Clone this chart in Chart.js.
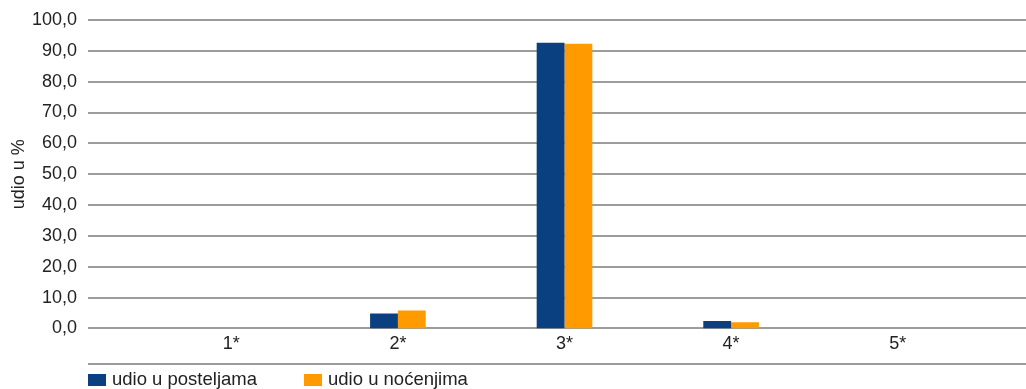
<!DOCTYPE html>
<html>
<head>
<meta charset="utf-8">
<script src="https://cdn.jsdelivr.net/npm/chart.js@4/dist/chart.umd.min.js"></script>
<style>
    html, body { margin: 0; padding: 0; background: #fff; }
    #wrap { position: relative; width: 1026px; height: 389px; }
    #legend { position: absolute; left: 88px; top: 368px; font-family: "Liberation Sans", Arial, sans-serif; font-size: 18.5px; color: #222; white-space: nowrap; }
    #legend span.item { display: inline-block; margin-right: 47px; line-height: 20px; }
    #legend span.box { display: inline-block; width: 18px; height: 12px; margin-right: 6px; vertical-align: -1px; }
</style>
</head>
<body>
<div id="wrap">
    <canvas id="chart" width="1026" height="389"></canvas>
    <div id="legend"></div>
</div>
<script>
// podaci
var categories = ['1*', '2*', '3*', '4*', '5*'];
var seriesNames = ['udio u posteljama', 'udio u noćenjima'];
var udioPostelje = [0, 4.8, 92.6, 2.4, 0];
var udioNocenja = [0, 5.8, 92.3, 2.0, 0];
var yTicks = [0, 10, 20, 30, 40, 50, 60, 70, 80, 90, 100];

var fontFamily = '"Liberation Sans", Arial, sans-serif';

// horizontalne linije mreze - idu od x=88 do desnog ruba
var gridPlugin = {
    id: 'gridLines',
    beforeDatasetsDraw: function(chart) {
        var ctx = chart.ctx;
        var y = chart.scales.y;
        ctx.save();
        ctx.strokeStyle = '#9c9c9c';
        ctx.lineWidth = 2;
        yTicks.forEach(function(v) {
            var py = Math.round(y.getPixelForValue(v));
            ctx.beginPath();
            ctx.moveTo(88, py);
            ctx.lineTo(chart.width, py);
            ctx.stroke();
        });
        // linija iznad legende
        ctx.beginPath();
        ctx.moveTo(88, 364);
        ctx.lineTo(chart.width, 364);
        ctx.stroke();
        ctx.restore();
    }
};

var ctx = document.getElementById('chart').getContext('2d');
var chart = new Chart(ctx, {
    type: 'bar',
    data: {
        labels: categories,
        datasets: [{
            label: seriesNames[0],
            data: udioPostelje,
            backgroundColor: '#0a4080',
            borderWidth: 0
        }, {
            label: seriesNames[1],
            data: udioNocenja,
            backgroundColor: '#ff9a00',
            borderWidth: 0
        }]
    },
    options: {
        responsive: false,
        animation: false,
        layout: {
            padding: { left: 4, right: 45, top: 20, bottom: 29 }
        },
        datasets: {
            bar: { categoryPercentage: 0.334, barPercentage: 1.0 }
        },
        scales: {
            x: {
                grid: { display: false, drawTicks: false },
                border: { display: false },
                ticks: {
                    color: '#222',
                    padding: 5,
                    font: { family: fontFamily, size: 18 }
                }
            },
            y: {
                min: 0,
                max: 100,
                afterFit: function(scale) {
                    // fiksna sirina osi, bez dodatnog razmaka gore/dolje
                    scale.width = 144;
                    scale.paddingTop = 0;
                    scale.paddingBottom = 0;
                },
                afterBuildTicks: function(scale) {
                    scale.ticks = yTicks.map(function(v) { return { value: v }; });
                },
                grid: { display: false, drawTicks: false },
                border: { display: false },
                ticks: {
                    color: '#222',
                    padding: 71,
                    font: { family: fontFamily, size: 18 },
                    callback: function(value) {
                        return value.toFixed(1).replace('.', ',');
                    }
                },
                title: {
                    display: true,
                    text: 'udio u %',
                    color: '#222',
                    padding: { top: 4, bottom: 4 },
                    font: { family: fontFamily, size: 18 }
                }
            }
        },
        plugins: {
            legend: { display: false },
            tooltip: { enabled: false }
        }
    },
    plugins: [gridPlugin]
});

// legenda u HTML-u, iz datasetova
var legendEl = document.getElementById('legend');
chart.data.datasets.forEach(function(ds) {
    var item = document.createElement('span');
    item.className = 'item';
    var box = document.createElement('span');
    box.className = 'box';
    box.style.background = ds.backgroundColor;
    item.appendChild(box);
    item.appendChild(document.createTextNode(ds.label));
    legendEl.appendChild(item);
});
</script>
</body>
</html>
